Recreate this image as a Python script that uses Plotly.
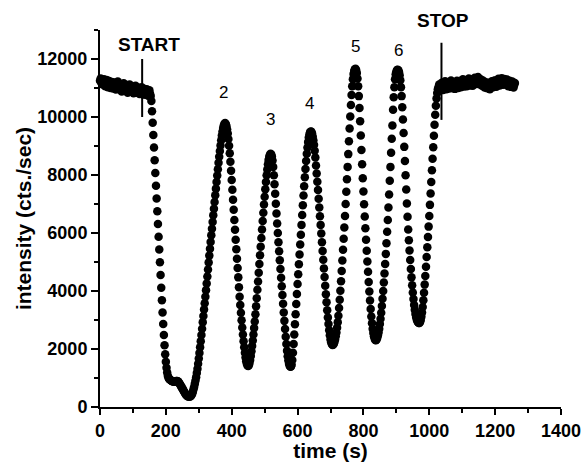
import plotly.graph_objects as go

FONT = "Liberation Sans, Arial, sans-serif"

# Sampling interval of the recorded trace (seconds)
SAMPLE_INTERVAL_S = 2

# Intensity (cts./sec), one value per sample, 20 s per row
intensity = [
    11250, 11330, 11180, 11280, 11120, 11230, 11300, 11150, 11060, 11200,
    11280, 11140, 11030, 11170, 11240, 11090, 11000, 11120, 11210, 11080,
    10980, 11100, 11190, 11060, 10950, 11040, 11150, 11220, 11080, 10960,
    11030, 11130, 10990, 10880, 10980, 11100, 11160, 11020, 10920, 11010,
    11090, 10950, 10840, 10930, 11050, 11120, 10990, 10870, 10960, 11060,
    10940, 10820, 10900, 11020, 11080, 10950, 10840, 10920, 11010, 10890,
    10790, 10880, 10990, 11030, 10900, 10780, 10860, 10970, 10880, 10770,
    10850, 10960, 10840, 10730, 10820, 10920, 10800, 10720, 10550, 10200,
    9800, 9380, 8950, 8510, 8070, 7630, 7190, 6750, 6310, 5870,
    5430, 4990, 4550, 4110, 3680, 3260, 2860, 2480, 2130, 1820,
    1560, 1350, 1190, 1080, 1010, 970, 950, 930, 910, 900,
    890, 880, 880, 870, 880, 890, 900, 900, 890, 870,
    840, 800, 760, 720, 680, 640, 600, 560, 520, 480,
    440, 410, 390, 375, 365, 360, 360, 365, 380, 410,
    460, 530, 610, 700, 800, 910, 1030, 1170, 1320, 1490,
    1670, 1860, 2060, 2270, 2480, 2700, 2920, 3140, 3360, 3580,
    3800, 4030, 4260, 4500, 4740, 4980, 5220, 5460, 5690, 5920,
    6150, 6380, 6610, 6840, 7070, 7300, 7530, 7760, 7980, 8200,
    8420, 8630, 8830, 9020, 9200, 9360, 9500, 9620, 9710, 9770,
    9790, 9760, 9690, 9580, 9430, 9240, 9010, 8750, 8460, 8150,
    7830, 7490, 7150, 6800, 6450, 6110, 5770, 5440, 5110, 4790,
    4470, 4130, 3800, 3520, 3250, 2990, 2740, 2500, 2270, 2060,
    1870, 1710, 1580, 1490, 1430, 1410, 1440, 1520, 1620, 1760,
    1920, 2100, 2290, 2500, 2720, 2950, 3200, 3470, 3750, 4040,
    4330, 4630, 4930, 5230, 5530, 5830, 6120, 6410, 6700, 6980,
    7250, 7510, 7760, 7990, 8190, 8370, 8520, 8630, 8700, 8730,
    8710, 8640, 8500, 8280, 7990, 7680, 7350, 7010, 6670, 6330,
    6000, 5680, 5370, 5060, 4760, 4460, 4160, 3860, 3560, 3260,
    2970, 2690, 2420, 2170, 1940, 1750, 1600, 1490, 1420, 1390,
    1400, 1460, 1620, 1870, 2170, 2500, 2850, 3200, 3550, 3900,
    4240, 4580, 4920, 5260, 5600, 5940, 6280, 6620, 6960, 7290,
    7610, 7920, 8210, 8480, 8730, 8950, 9140, 9290, 9400, 9470,
    9500, 9490, 9430, 9330, 9200, 9040, 8840, 8600, 8330, 8050,
    7770, 7480, 7180, 6880, 6580, 6280, 5980, 5680, 5380, 5080,
    4780, 4480, 4180, 3890, 3610, 3340, 3090, 2860, 2650, 2470,
    2330, 2230, 2170, 2140, 2150, 2180, 2240, 2330, 2440, 2570,
    2730, 2920, 3150, 3410, 3700, 4010, 4340, 4690, 5050, 5420,
    5800, 6190, 6590, 7000, 7420, 7850, 8280, 8720, 9160, 9600,
    10020, 10410, 10760, 11060, 11300, 11480, 11590, 11650, 11660, 11620,
    11520, 11330, 11060, 10720, 10310, 9850, 9360, 8860, 8370, 7890,
    7430, 6990, 6570, 6160, 5770, 5390, 5020, 4660, 4310, 3980,
    3670, 3380, 3120, 2890, 2700, 2550, 2440, 2360, 2310, 2300,
    2330, 2390, 2470, 2570, 2700, 2860, 3040, 3250, 3480, 3730,
    4000, 4290, 4600, 4930, 5280, 5650, 6040, 6450, 6880, 7330,
    7800, 8280, 8770, 9250, 9710, 10250, 10680, 11030, 11300, 11470,
    11570, 11620, 11630, 11610, 11550, 11440, 11270, 11030, 10720, 10340,
    9910, 9450, 8970, 8480, 7990, 7500, 7020, 6560, 6120, 5750,
    5400, 5070, 4760, 4470, 4200, 3950, 3720, 3520, 3350, 3210,
    3100, 3020, 2960, 2920, 2900, 2900, 2930, 3000, 3110, 3260,
    3450, 3680, 3940, 4220, 4520, 4840, 5170, 5510, 5860, 6220,
    6590, 6970, 7360, 7760, 8160, 8560, 8960, 9350, 9730, 10080,
    10390, 10640, 10830, 10960, 11030, 11120, 11000, 10920, 11090, 11180,
    11040, 10930, 11010, 11150, 11230, 11080, 10960, 11050, 11170, 11100,
    10980, 11070, 11200, 11260, 11120, 10990, 11080, 11190, 11060, 10970,
    11060, 11180, 11250, 11110, 11000, 11090, 11210, 11140, 11030, 11120,
    11240, 11300, 11170, 11050, 11130, 11260, 11190, 11060, 11150, 11270,
    11330, 11210, 11090, 11170, 11290, 11200, 11080, 11150, 11280, 11350,
    11260, 11140, 11230, 11340, 11380, 11250, 11130, 11210, 11300, 11190,
    11080, 11160, 11250, 11130, 11020, 11100, 11200, 11090, 10990, 11080,
    11170, 11060, 10960, 11050, 11150, 11230, 11110, 11030, 11140, 11260,
    11250, 11130, 11040, 11150, 11270, 11320, 11200, 11090, 11180, 11300,
    11340, 11220, 11110, 11200, 11310, 11240, 11120, 11190, 11290, 11170,
    11060, 11150, 11250, 11160, 11040, 11120, 11220, 11130, 11020, 11110,
    11170,
]
time_s = [i * SAMPLE_INTERVAL_S for i in range(len(intensity))]

# Peak numbering labels
peak_labels = ["2", "3", "4", "5", "6"]
peak_label_time = [374, 518, 635, 776, 905]
peak_label_value = [10830, 9920, 10480, 12420, 12280]

# START / STOP event markers
event_labels = ["START", "STOP"]
event_time = [128, 1037]
event_line_low = [10000, 9900]
event_line_high = [12000, 12560]
event_label_time = [148, 1043]
event_label_value = [12490, 13330]

x_range = [0, 1400]
y_range = [0, 13000]

fig = go.Figure()
fig.add_trace(go.Scatter(
    x=time_s, y=intensity, mode="markers",
    marker=dict(color="black", size=8.5, line=dict(width=0)),
    cliponaxis=False, showlegend=False, hoverinfo="skip",
))

for t, lo, hi in zip(event_time, event_line_low, event_line_high):
    fig.add_shape(type="line", xref="x", yref="y", x0=t, x1=t, y0=lo, y1=hi,
                  line=dict(color="black", width=2))

annotations = []
for txt, t, v in zip(peak_labels, peak_label_time, peak_label_value):
    annotations.append(dict(x=t, y=v, xref="x", yref="y", text=txt, showarrow=False,
                            xanchor="center", yanchor="middle",
                            font=dict(family=FONT, size=17, color="black")))
# event labels may sit above the axis top, so place them in paper units
for txt, t, v in zip(event_labels, event_label_time, event_label_value):
    annotations.append(dict(x=t, y=(v - y_range[0]) / (y_range[1] - y_range[0]),
                            xref="x", yref="paper", text="<b>%s</b>" % txt, showarrow=False,
                            xanchor="center", yanchor="middle",
                            font=dict(family=FONT, size=19, color="black")))

axis_common = dict(
    showline=True, linecolor="black", linewidth=2, showgrid=False, zeroline=False,
    ticks="outside", tickwidth=2, tickcolor="black", automargin=False,
    tickfont=dict(family=FONT, size=18, color="black", weight="bold"),
)

fig.update_layout(
    width=584, height=462,
    margin=dict(l=100, r=23, t=30, b=55, pad=0),
    paper_bgcolor="white", plot_bgcolor="white",
    font=dict(family=FONT, color="black"),
    annotations=annotations,
    xaxis=dict(range=x_range, tick0=0, dtick=200, ticklen=6,
               minor=dict(dtick=100, ticks="outside", ticklen=4, tickwidth=2, tickcolor="black", showgrid=False),
               title=dict(text="<b>time (s)</b>", font=dict(family=FONT, size=21, color="black"), standoff=2),
               **axis_common),
    yaxis=dict(range=y_range, tick0=0, dtick=2000, ticklen=7, tickformat="d",
               minor=dict(dtick=1000, ticks="outside", ticklen=4, tickwidth=2, tickcolor="black", showgrid=False),
               title=dict(text="<b>intensity (cts./sec)</b>", font=dict(family=FONT, size=21, color="black"), standoff=0),
               **axis_common),
)

fig.write_html("out.html")
